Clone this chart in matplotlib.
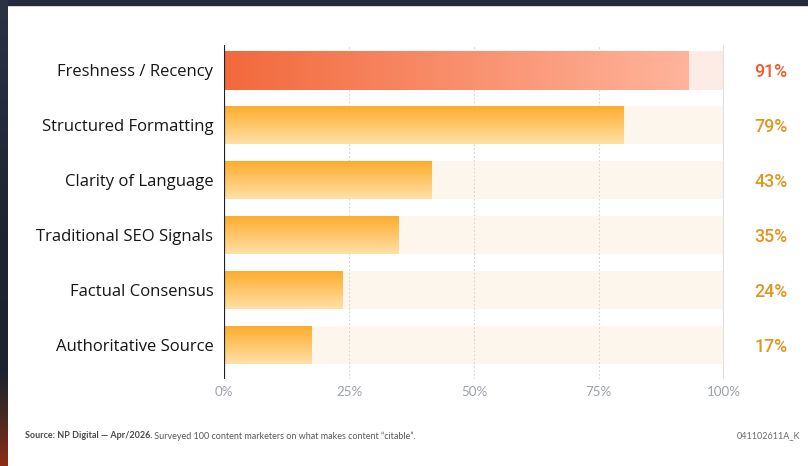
import numpy as np
import matplotlib
matplotlib.use("Agg")
import matplotlib.pyplot as plt
from matplotlib.patches import Rectangle
from matplotlib.colors import LinearSegmentedColormap

# ---- data ----
categories = ["Freshness / Recency", "Structured Formatting", "Clarity of Language",
              "Traditional SEO Signals", "Factual Consensus", "Authoritative Source"]
bar_values = [93, 80, 41.6, 35, 23.8, 17.6]          # bar lengths as drawn
value_labels = ["91%", "79%", "43%", "35%", "24%", "17%"]  # printed labels
x_ticks = [0, 25, 50, 75, 100]
x_tick_labels = ["0%", "25%", "50%", "75%", "100%"]
source_bold = "Source: NP Digital \u2014 Apr/2026."
source_rest = " Surveyed 100 content marketers on what makes content \u201ccitable\u201d."
chart_id = "041102611A_K"

plt.rcParams['font.family'] = ['Lato', 'DejaVu Sans']

W, H = 808, 466
fig = plt.figure(figsize=(W / 100, H / 100), dpi=100)

# ---- background frame ----
bg = fig.add_axes([0, 0, 1, 1])
bg.set_xlim(0, W)
bg.set_ylim(H, 0)
bg.axis("off")
bg.add_patch(Rectangle((0, 0), W, H, color="white", zorder=0))
bg.add_patch(Rectangle((0, 0), W, 4.5, color="#242b3d", zorder=1))
strip_cmap = LinearSegmentedColormap.from_list(
    "strip", [(0, "#2a3245"), (0.5, "#1f2433"), (0.8, "#1d2230"), (0.9, "#4a2a20"), (1.0, "#8c2e17")])
grad = np.linspace(0, 1, 256).reshape(-1, 1)
bg.imshow(grad, cmap=strip_cmap, extent=[0, 7.5, H, 0], aspect="auto", zorder=2)
bg.set_xlim(0, W)
bg.set_ylim(H, 0)

# ---- main axes ----
left_px, right_px, top_px, bot_px = 224.3, 723.6, 45.0, 378.6
ax = fig.add_axes([left_px / W, 1 - bot_px / H, (right_px - left_px) / W, (bot_px - top_px) / H])
ax.set_facecolor("none")
ax.set_xlim(0, 100)
ax.set_ylim(5.61, -0.46)
for s in ax.spines.values():
    s.set_visible(False)
ax.set_yticks([])
ax.set_xticks(x_ticks)
ax.set_xticklabels(x_tick_labels, color="#9ca1a9", fontsize=9.6)
ax.tick_params(axis="x", length=0, pad=5)

bar_h = 0.70
n = len(categories)

# tracks
for i in range(n):
    track_color = "#fdece6" if i == 0 else "#fdf6ec"
    ax.add_patch(Rectangle((0, i - bar_h / 2), 100, bar_h, color=track_color, zorder=1, lw=0))

# gridlines
for g in x_ticks[1:-1]:
    ax.axvline(g, color="#d6d6d6", lw=0.8, ls=(0, (1.5, 2)), zorder=2)
ax.axvline(0, color="#222222", lw=1.6, zorder=5)
ax.axvline(100, color="#dde1e5", lw=1.6, zorder=5)

red_cmap = LinearSegmentedColormap.from_list("red", ["#f2693c", "#ffb49b"])
orange_cmap = LinearSegmentedColormap.from_list("orange", ["#fdab28", "#ffe1a8"])

for i, (v, cat, lab) in enumerate(zip(bar_values, categories, value_labels)):
    y0, y1 = i - bar_h / 2, i + bar_h / 2
    rect = Rectangle((0, y0), v, bar_h, facecolor="none", edgecolor="none", zorder=3)
    ax.add_patch(rect)
    if i == 0:
        img = ax.imshow(np.linspace(0, 1, 256).reshape(1, -1), cmap=red_cmap,
                        extent=[0, v, y1, y0], aspect="auto", zorder=3, interpolation="bilinear")
    else:
        img = ax.imshow(np.linspace(0, 1, 256).reshape(-1, 1), cmap=orange_cmap,
                        extent=[0, v, y1, y0], aspect="auto", zorder=3, interpolation="bilinear")
    img.set_clip_path(rect)
    ax.text(-2.2, i + 0.03, cat, ha="right", va="center", fontsize=12, color="#161616",
            family=["Open Sans", "DejaVu Sans"], fontweight="medium")
    ax.text(109.5, i + 0.03, lab, ha="center", va="center", fontsize=12.8, fontweight="medium",
            family=["Roboto", "DejaVu Sans"],
            color="#f05a2c" if i == 0 else "#e29620")

ax.set_xlim(0, 100)
ax.set_ylim(5.61, -0.46)

# ---- footer ----
t1 = fig.text(25 / W, 1 - 436 / H, source_bold, fontsize=6.5, fontweight="bold",
              color="#4a4a4a", va="center", ha="left")
fig.canvas.draw()
bb = t1.get_window_extent()
fig.text(bb.x1 / W, 1 - 436 / H, source_rest, fontsize=6.5, color="#5a5a5a",
         va="center", ha="left")
fig.text(800 / W, 1 - 436 / H, chart_id, fontsize=6.5, color="#6a6a6a", va="center", ha="right")

fig.savefig("out.png", dpi=100)
